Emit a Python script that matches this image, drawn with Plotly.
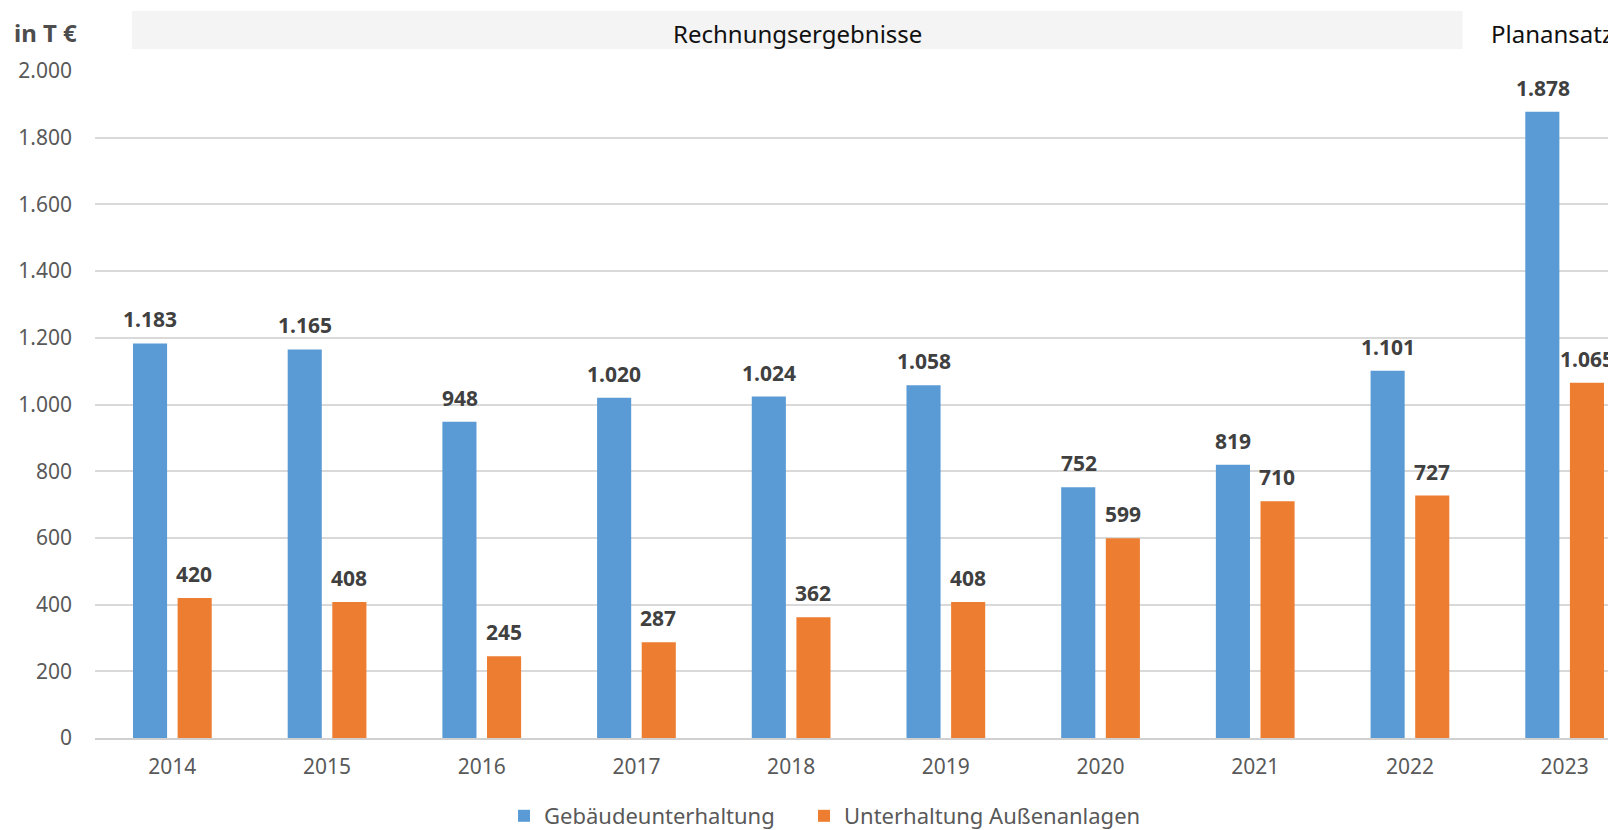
import plotly.graph_objects as go

years = ["2014", "2015", "2016", "2017", "2018", "2019", "2020", "2021", "2022", "2023"]
gebaeude = [1183, 1165, 948, 1020, 1024, 1058, 752, 819, 1101, 1878]
aussen = [420, 408, 245, 287, 362, 408, 599, 710, 727, 1065]
series_names = ["Gebäudeunterhaltung", "Unterhaltung Außenanlagen"]
y_ticks = [0, 200, 400, 600, 800, 1000, 1200, 1400, 1600, 1800, 2000]

BLUE = "#5b9bd5"
ORANGE = "#ed7d31"
FONT = "Noto Sans"

# page body has an 8px margin: figure is shifted by 8px right/down
W, H = 1608, 822
ML, MT, MB = 87, 63, 92
PLOT_W = W - ML
PLOT_H = H - MT - MB


def fmt(v):
    return f"{v:,}".replace(",", ".")


fig = go.Figure()
fig.add_trace(go.Bar(x=years, y=gebaeude, name=series_names[0], legend="legend",
                     marker=dict(color=BLUE, line=dict(width=0))))
fig.add_trace(go.Bar(x=years, y=aussen, name=series_names[1], legend="legend2",
                     marker=dict(color=ORANGE, line=dict(width=0))))

label_font = dict(family=FONT, size=21, color="#404040", weight="bold")
annotations = []
for i, v in enumerate(gebaeude):
    annotations.append(dict(x=i, y=v, xref="x", yref="y", text=fmt(v), showarrow=False,
                            xshift=-22, yshift=24, yanchor="middle", font=label_font))
for i, v in enumerate(aussen):
    annotations.append(dict(x=i, y=v, xref="x", yref="y", text=fmt(v), showarrow=False,
                            xshift=22, yshift=24, yanchor="middle", font=label_font))

annotations.append(dict(x=4.04, y=1 + 37 / PLOT_H, xref="x", yref="paper", text="Rechnungsergebnisse",
                        showarrow=False, xanchor="center", yanchor="middle",
                        font=dict(family=FONT, size=24, color="#111111")))
annotations.append(dict(x=8.51, y=1 + 37 / PLOT_H, xref="x", yref="paper", text="Planansatz",
                        showarrow=False, xanchor="left", yanchor="middle",
                        font=dict(family=FONT, size=24, color="#111111")))
annotations.append(dict(x=-83 / PLOT_W, y=1 + 38 / PLOT_H, xref="paper", yref="paper", text="in T €",
                        showarrow=False, xanchor="left", yanchor="middle",
                        font=dict(family=FONT, size=24, color="#4d4d4d", weight="bold")))

legend_common = dict(orientation="h", xanchor="left", y=-78 / PLOT_H, yanchor="middle",
                     font=dict(family=FONT, size=22, color="#595959"),
                     bgcolor="rgba(0,0,0,0)")

fig.update_layout(
    width=W, height=H,
    margin=dict(l=ML, r=0, t=MT, b=MB, pad=0, autoexpand=False),
    paper_bgcolor="white", plot_bgcolor="white",
    barmode="group", bargap=0.423, bargroupgap=0.236,
    separators=",.",
    showlegend=True,
    legend=dict(x=409 / PLOT_W, **legend_common),
    legend2=dict(x=709 / PLOT_W, **legend_common),
    font=dict(family=FONT, color="#595959"),
    hovermode=False,
    shapes=[dict(type="rect", xref="x", yref="paper", x0=-0.26, x1=8.34,
                 y0=1 + 22 / PLOT_H, y1=1 + 60 / PLOT_H, fillcolor="#f4f4f4",
                 line=dict(width=0), layer="below")],
    annotations=annotations,
)

fig.update_xaxes(range=[-0.5, 9.332], showgrid=False, showline=True, linecolor="#d0d0d0",
                 linewidth=2, ticks="outside", ticklen=9, tickcolor="rgba(0,0,0,0)",
                 tickfont=dict(family=FONT, size=21, color="#595959"))
fig.update_yaxes(range=[0, 2000], tickvals=y_ticks, tickformat=",d", showgrid=True,
                 gridcolor="#d9d9d9", gridwidth=1.5, zeroline=False, showline=False,
                 ticks="", ticklabelstandoff=22,
                 tickfont=dict(family=FONT, size=21, color="#595959"))

fig.write_html("out.html")
